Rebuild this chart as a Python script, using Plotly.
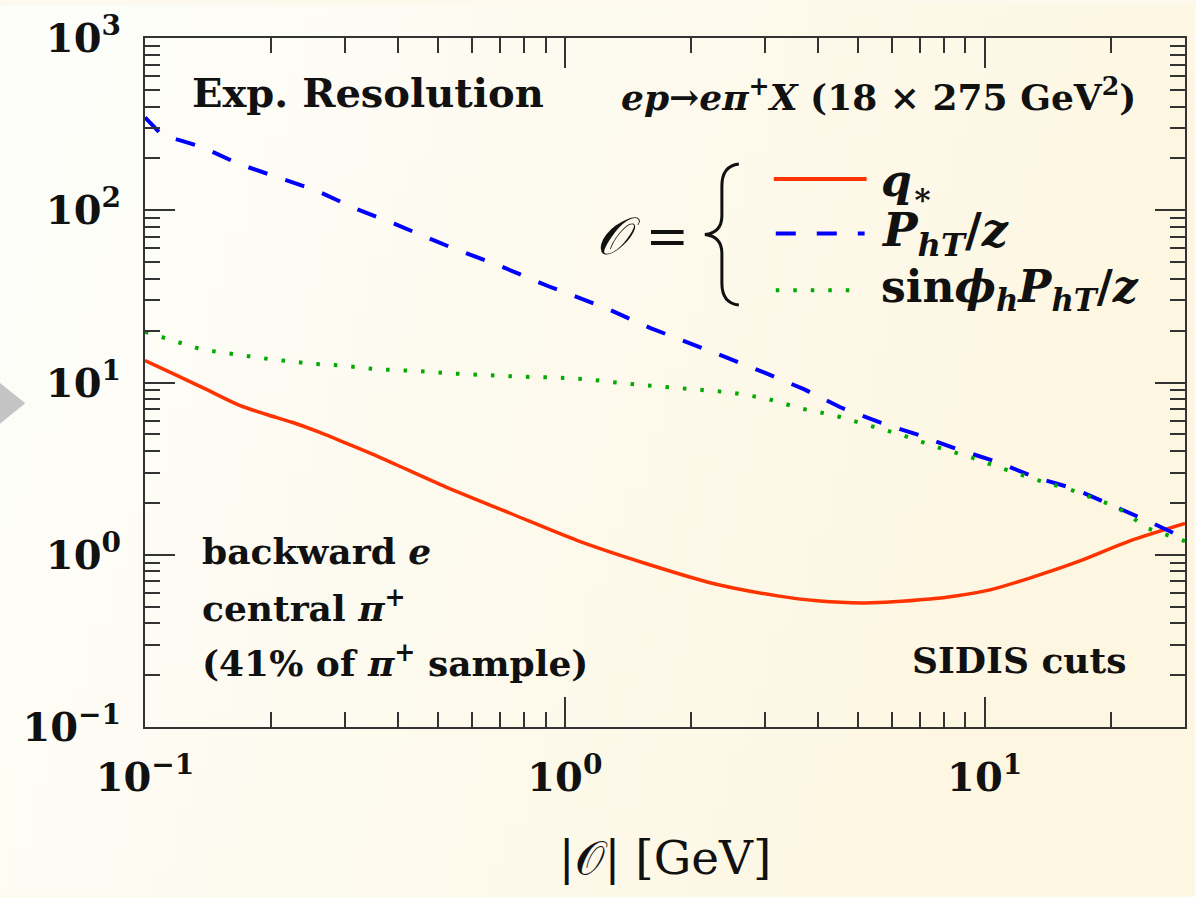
import base64, struct, zlib
import plotly.graph_objects as go

# ---------------- data ----------------
x_qstar = [0.1, 0.118, 0.14, 0.168, 0.194, 0.224, 0.26, 0.301, 0.347, 0.398, 0.52, 0.746,
           1.08, 1.55, 2.23, 3.21, 3.99, 5.19, 7.41, 8.6, 10.3, 12.8, 16.8, 22.1, 30]
y_qstar = [13.4, 11.1, 9.12, 7.37, 6.54, 5.88, 5.15, 4.45, 3.85, 3.32, 2.48, 1.73,
           1.20, 0.893, 0.686, 0.577, 0.540, 0.525, 0.553, 0.578, 0.625, 0.732, 0.917, 1.20, 1.52]

x_pht = [0.1, 0.110, 0.123, 0.137, 0.168, 0.207, 0.256, 0.315, 0.392, 0.529, 0.695, 0.914,
         1.25, 1.60, 1.98, 2.44, 2.99, 3.72, 4.53, 5.61, 6.97, 8.58, 10.7, 13.1, 16.3, 20.0, 24.6, 30]
y_pht = [346, 272, 252, 232, 185, 156, 130, 103, 83.6, 61.6, 47.9, 36.2,
         27.1, 20.7, 17.0, 13.9, 11.4, 9.12, 7.18, 5.88, 4.95, 4.11, 3.46, 2.83, 2.42, 1.95, 1.56, 1.245]

x_sin = [0.1, 0.115, 0.137, 0.166, 0.201, 0.246, 0.298, 0.361, 0.437, 0.529, 0.648, 0.784,
         0.950, 1.15, 1.39, 1.69, 2.05, 2.48, 3.01, 3.64, 4.38, 5.31, 6.36, 7.69, 9.21, 11.1,
         13.3, 15.9, 20.6, 24.5, 30]
y_sin = [19.7, 17.7, 15.5, 14.5, 13.6, 12.9, 12.5, 11.9, 11.7, 11.3, 11.0, 10.8,
         10.7, 10.4, 9.87, 9.48, 9.12, 8.76, 8.09, 7.08, 6.45, 5.65, 4.95, 4.22, 3.70, 3.15,
         2.72, 2.40, 1.90, 1.42, 1.20]

x_tickvals = [0.1, 1, 10]
x_ticktext = ["10<sup>−1</sup>", "10<sup>0</sup>", "10<sup>1</sup>"]
y_tickvals = [0.1, 1, 10, 100, 1000]
y_ticktext = ["10<sup>−1</sup>", "10<sup>0</sup>", "10<sup>1</sup>", "10<sup>2</sup>", "10<sup>3</sup>"]
x_minor = [0.2, 0.3, 0.4, 0.5, 0.6, 0.7, 0.8, 0.9, 2, 3, 4, 5, 6, 7, 8, 9, 20, 30]
y_minor = [v * m for v in [0.1, 1, 10, 100] for m in range(2, 10)]

# ---------------- layout geometry ----------------
W, H = 1196, 897
L, R, T, B = 145, 1187, 33, 727
FONT = "DejaVu Serif"
RED, BLUE, GREEN = "#FF3300", "#0000FF", "#00AA00"


def px(x):
    return (x - L) / (R - L)


def py(y):
    return (B - y) / (B - T)


# soft cream background (styling only)
def gradient_png(w, h):
    rows = b""
    for j in range(h):
        row = b"\x00"
        for i in range(w):
            X = i / (w - 1) * W
            Y = j / (h - 1) * H
            t = (X * 0.85 + (Y - 300) * 0.3) / 1050.0
            t = max(0.0, min(1.0, t))
            c0 = (253, 253, 249)
            c1 = (253, 246, 224)
            row += bytes(int(round(c0[k] + (c1[k] - c0[k]) * t)) for k in range(3))
        rows += row

    def chunk(tag, data):
        return struct.pack(">I", len(data)) + tag + data + struct.pack(">I", zlib.crc32(tag + data) & 0xffffffff)

    png = b"\x89PNG\r\n\x1a\n" + chunk(b"IHDR", struct.pack(">IIBBBBB", w, h, 8, 2, 0, 0, 0))
    png += chunk(b"IDAT", zlib.compress(rows, 9)) + chunk(b"IEND", b"")
    return "data:image/png;base64," + base64.b64encode(png).decode()


fig = go.Figure()
fig.add_trace(go.Scatter(x=x_qstar, y=y_qstar, mode="lines", name="q*",
                         line=dict(color=RED, width=3.5, shape="spline", smoothing=0.8)))
fig.add_trace(go.Scatter(x=x_pht, y=y_pht, mode="lines", name="PhT/z",
                         line=dict(color=BLUE, width=4, dash="20px,19px")))
fig.add_trace(go.Scatter(x=x_sin, y=y_sin, mode="lines", name="sin phi PhT/z",
                         line=dict(color=GREEN, width=4, dash="3.5px,14px")))

axis_common = dict(type="log", showgrid=False, zeroline=False, showline=True,
                   linecolor="#333333", linewidth=2, mirror="allticks",
                   ticks="inside", ticklen=30, tickwidth=1.6, tickcolor="#333333",
                   tickmode="array",
                   tickfont=dict(family=FONT, size=40, color="#111111", weight="bold"))

fig.update_xaxes(**axis_common, range=[-1, 1.4771], tickvals=x_tickvals, ticktext=x_ticktext,
                 minor=dict(ticks="inside", ticklen=15, tickwidth=1.6, tickcolor="#333333",
                            tickmode="array", tickvals=x_minor),
                 ticklabelstandoff=14,
                 title=dict(text="|𝒪| [GeV]", font=dict(family=FONT, size=47, color="#111111"),
                            standoff=42))
fig.update_yaxes(**axis_common, range=[-1, 3], tickvals=y_tickvals, ticktext=y_ticktext,
                 minor=dict(ticks="inside", ticklen=15, tickwidth=1.6, tickcolor="#333333",
                            tickmode="array", tickvals=y_minor),
                 ticklabelstandoff=14)

ann = []


def text(x, y, s, size=32, anchor="left"):
    ann.append(dict(x=px(x), y=py(y), xref="paper", yref="paper", text=s, showarrow=False,
                    xanchor=anchor, yanchor="middle",
                    font=dict(family=FONT, size=size, color="#111111")))


text(190, 88, "<b>Exp. Resolution</b>", 40)
text(1140, 90, "<b><i>ep</i>→<i>eπ</i><sup>+</sup><i>X</i> (18 × 275 GeV<sup>2</sup>)</b>", 36, "right")
text(692, 232, "<i>𝒪</i> =", 52, "right")
text(880, 180, "<b><i>q</i><sub>∗</sub></b>", 44)
text(880, 230, "<b><i>P</i><sub><i>hT</i></sub>/<i>z</i></b>", 46)
text(880, 286, "<b>sin<i>ϕ</i><sub><i>h</i></sub><i>P</i><sub><i>hT</i></sub>/<i>z</i></b>", 44)
text(200, 550, "<b>backward <i>e</i></b>", 36)
text(200, 605, "<b>central <i>π</i><sup>+</sup></b>", 36)
text(200, 660, "<b>(41% of <i>π</i><sup>+</sup> sample)</b>", 36)
text(1130, 660, "<b>SIDIS cuts</b>", 36, "right")

shapes = []
# legend samples
shapes.append(dict(type="line", xref="paper", yref="paper", x0=px(775), x1=px(868), y0=py(175), y1=py(175),
                   line=dict(color=RED, width=4)))
shapes.append(dict(type="line", xref="paper", yref="paper", x0=px(777), x1=px(866), y0=py(230), y1=py(230),
                   line=dict(color=BLUE, width=4, dash="20px,21px")))
shapes.append(dict(type="line", xref="paper", yref="paper", x0=px(777), x1=px(856), y0=py(287), y1=py(287),
                   line=dict(color=GREEN, width=4, dash="3.5px,14px")))
# curly brace
bx, tip = 723, 706
pts = [
    ("M", [(740, 160)]),
    ("Q", [(bx, 162), (bx, 182)]),
    ("L", [(bx, 212)]),
    ("Q", [(bx, 229), (tip, 231)]),
    ("Q", [(bx, 233), (bx, 250)]),
    ("L", [(bx, 280)]),
    ("Q", [(bx, 300), (740, 302)]),
]
path = ""
for cmd, ps in pts:
    path += cmd + " " + " ".join(f"{px(a):.5f},{py(b):.5f}" for a, b in ps) + " "
shapes.append(dict(type="path", xref="paper", yref="paper", path=path.strip(),
                   line=dict(color="#111111", width=3)))
# grey navigation arrow at left edge
shapes.append(dict(type="path", xref="paper", yref="paper",
                   path=f"M {px(-12):.5f},{py(371):.5f} L {px(25):.5f},{py(401):.5f} L {px(-12):.5f},{py(431):.5f} Z",
                   fillcolor="#C3C4C3", line=dict(width=0)))

fig.update_layout(
    width=W, height=H,
    margin=dict(l=L, r=W - R, t=T, b=H - B),
    paper_bgcolor="#FDF9EC",
    plot_bgcolor="rgba(0,0,0,0)",
    showlegend=False,
    annotations=ann,
    shapes=shapes,
    images=[dict(source=gradient_png(60, 45), xref="paper", yref="paper",
                 x=px(0), y=py(0), sizex=px(W) - px(0), sizey=py(0) - py(H),
                 sizing="stretch", layer="below", xanchor="left", yanchor="top")],
)

fig.write_html("out.html", config={"displayModeBar": False},
               post_script="document.body.style.margin='0';document.body.style.overflow='hidden';")
